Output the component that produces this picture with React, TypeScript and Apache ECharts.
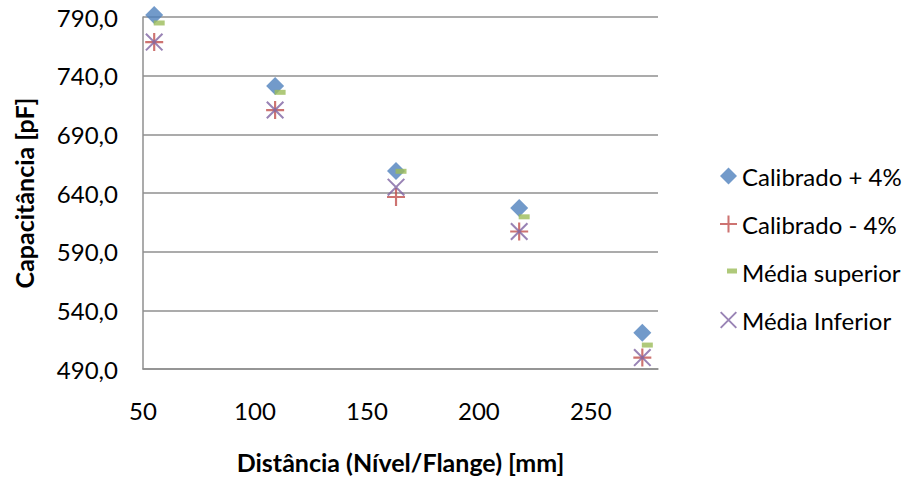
import React, { useEffect, useRef } from "react";
import * as echarts from "echarts";

const xValues = [55, 109, 163, 218, 273];
const calibradoMais = [791.7, 731.2, 658.8, 627.2, 520.8];
const calibradoMenos = [768.6, 710.7, 636.6, 607.2, 499.7];
const mediaSuperior = [784.9, 725.8, 658.5, 619.7, 510.4];
const mediaInferior = [768.6, 710.7, 645.0, 607.2, 499.7];

const seriesNames = ["Calibrado + 4%", "Calibrado - 4%", "Média superior", "Média Inferior"];
const xAxisTitle = "Distância (Nível/Flange) [mm]";
const yAxisTitle = "Capacitância [pF]";

const FONT = "Lato, 'Open Sans', sans-serif";
const GRID_COLOR = "#8f8f8f";

const PLUS_PATH = "path://M44,0 H56 V44 H100 V56 H56 V100 H44 V56 H0 V44 H44 Z";
const CROSS_PATH =
  "path://M0,8 L8,0 L100,92 L92,100 Z M92,0 L100,8 L8,100 L0,92 Z";
const DASH_LEGEND_PATH =
  "path://M0,0 L0.01,0 L0,0.01 Z M7,5 H17 V10 H7 Z M17,17 L16.99,17 L17,16.99 Z";

function pairs(xs: number[], ys: number[]) {
  return xs.map((x, i) => [x, ys[i]]);
}

export default function App() {
  const ref = useRef<HTMLDivElement>(null);
  useEffect(() => {
    if (!ref.current) return;
    const chart = echarts.init(ref.current, undefined, { renderer: "svg" });
    chart.setOption({
      animation: false,
      backgroundColor: "#ffffff",
      textStyle: { fontFamily: FONT },
      grid: { left: 143, right: 251, top: 17, bottom: 112, containLabel: false },
      xAxis: {
        type: "value",
        min: 50,
        max: 280,
        interval: 50,
        axisLine: { show: true, lineStyle: { color: GRID_COLOR, width: 1.5 } },
        axisTick: { show: false },
        splitLine: { show: false },
        axisLabel: {
          showMaxLabel: false,
          color: "#000",
          fontSize: 24,
          fontFamily: FONT,
          margin: 29,
        },
        name: xAxisTitle,
        nameLocation: "middle",
        nameGap: 80,
        nameTextStyle: { color: "#000", fontSize: 25, fontWeight: "bold", fontFamily: FONT },
      },
      yAxis: {
        type: "value",
        min: 490,
        max: 790,
        interval: 50,
        axisLine: { show: true, lineStyle: { color: GRID_COLOR, width: 1.5 } },
        axisTick: { show: false },
        splitLine: { show: true, lineStyle: { color: GRID_COLOR, width: 1.5 } },
        axisLabel: {
          color: "#000",
          fontSize: 24,
          fontFamily: FONT,
          margin: 25,
          formatter: (v: number) => v.toFixed(1).replace(".", ","),
        },
        name: yAxisTitle,
        nameLocation: "middle",
        nameRotate: 90,
        nameGap: 107,
        nameTextStyle: { color: "#000", fontSize: 25, fontWeight: "bold", fontFamily: FONT },
      },
      legend: {
        orient: "vertical",
        left: 715,
        top: 158,
        itemWidth: 17,
        itemHeight: 17,
        itemGap: 22,
        textStyle: { color: "#000", fontSize: 24, fontFamily: FONT, lineHeight: 26 },
        data: [
          { name: seriesNames[0] },
          { name: seriesNames[1] },
          { name: seriesNames[2], icon: DASH_LEGEND_PATH },
          { name: seriesNames[3] },
        ],
      },
      series: [
        {
          name: seriesNames[0],
          type: "scatter",
          clip: false,
          symbol: "diamond",
          symbolSize: 18,
          itemStyle: { color: "#4F81BD" },
          data: pairs(xValues, calibradoMais),
        },
        {
          name: seriesNames[1],
          type: "scatter",
          clip: false,
          symbol: PLUS_PATH,
          symbolSize: 18,
          itemStyle: { color: "#C0504D" },
          data: pairs(xValues, calibradoMenos),
        },
        {
          name: seriesNames[2],
          type: "scatter",
          clip: false,
          symbol: "rect",
          symbolSize: [11, 5],
          symbolOffset: [5, 0],
          itemStyle: { color: "#9BBB59" },
          data: pairs(xValues, mediaSuperior),
        },
        {
          name: seriesNames[3],
          type: "scatter",
          clip: false,
          symbol: CROSS_PATH,
          symbolSize: 18,
          itemStyle: { color: "#8064A2" },
          data: pairs(xValues, mediaInferior),
        },
      ],
    });
    return () => chart.dispose();
  }, []);
  return (
    <div
      ref={ref}
      style={{ position: "fixed", left: 0, top: 0, width: 909, height: 481 }}
    />
  );
}
